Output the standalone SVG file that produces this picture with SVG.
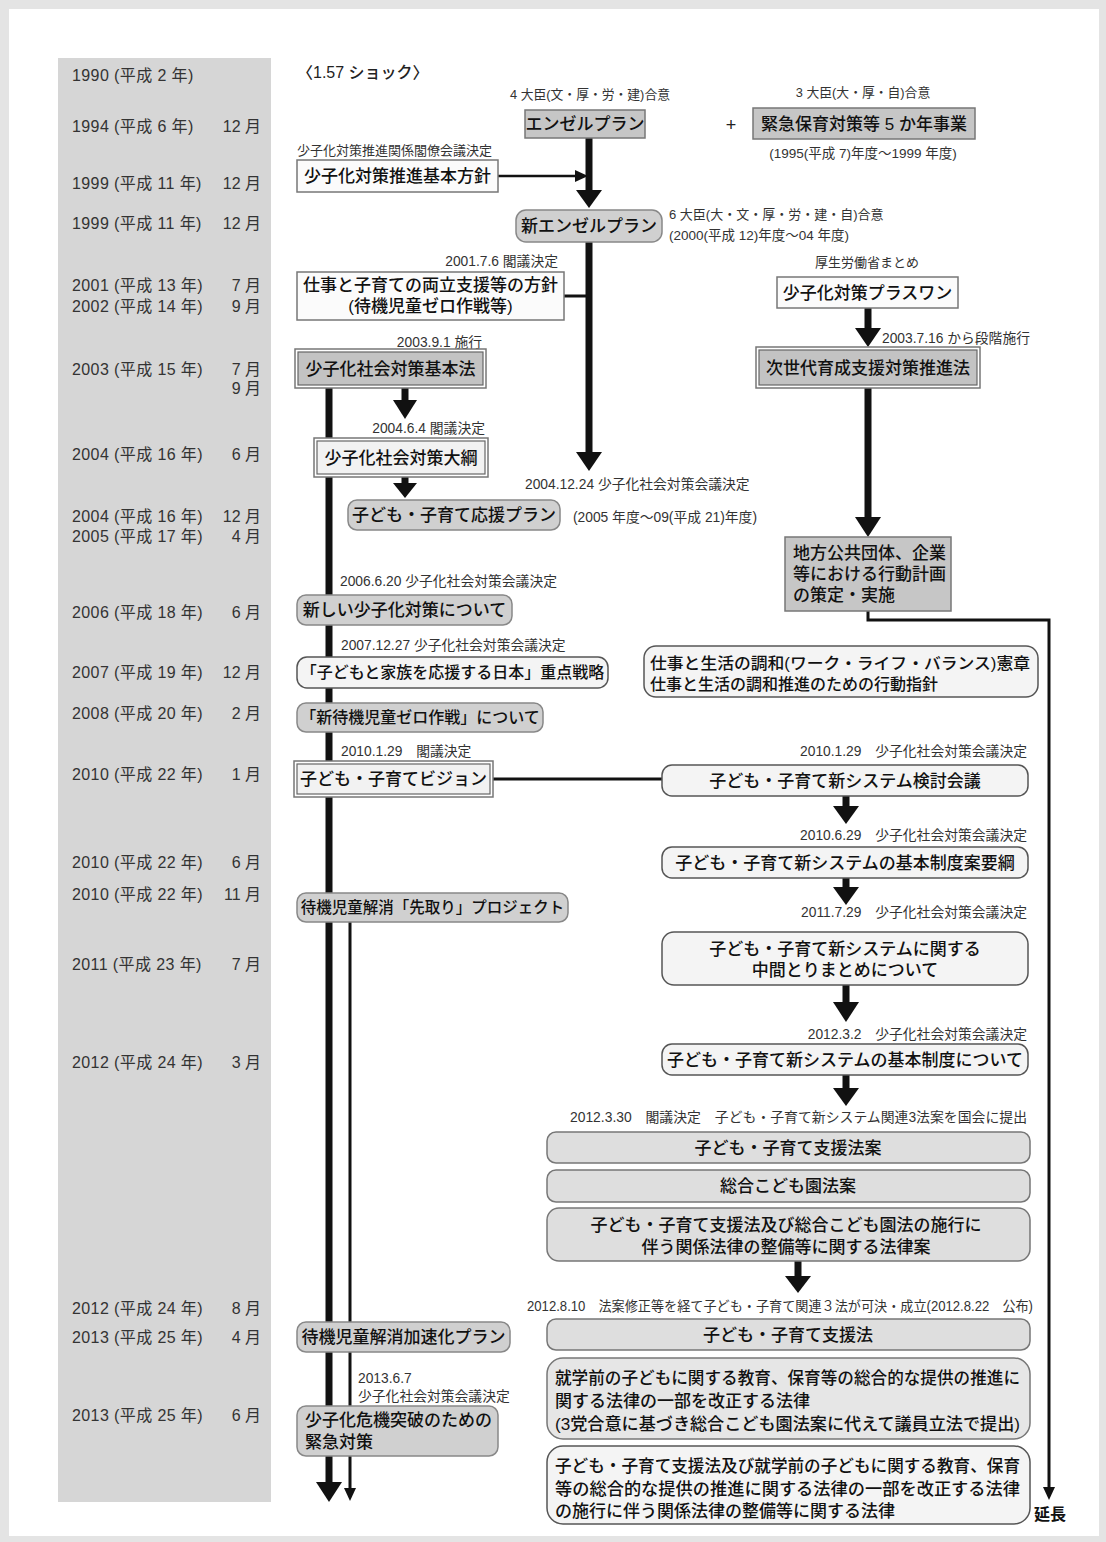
<svg xmlns="http://www.w3.org/2000/svg" width="1106" height="1542" viewBox="0 0 1106 1542">
<style>
text{font-family:"Liberation Sans","Noto Sans CJK JP",sans-serif}
.yr{font-size:16px;fill:#333;letter-spacing:0.4px}
.yrm{font-size:16px;fill:#333;text-anchor:end}
.ann{font-size:13.8px;fill:#333}
.annE{font-size:13.8px;fill:#333;text-anchor:end}
.annM{font-size:12.8px;fill:#333;text-anchor:middle}
.lbl{font-size:17px;fill:#111;text-anchor:middle;font-weight:500}
.lblL{font-size:17px;fill:#111;font-weight:500}
.gsq{fill:#c6c6c6;stroke:#777;stroke-width:1.5}
.wsq{fill:#fbfbfb;stroke:#777;stroke-width:1.5}
.grd{fill:#d0d0d0;stroke:#888;stroke-width:1.5}
.lrd{fill:#dedede;stroke:#777;stroke-width:1.5}
.wrd{fill:#f4f4f4;stroke:#555;stroke-width:1.5}
.outer{fill:#fff;stroke:#777;stroke-width:1.5}
.ginner{fill:#c3c3c3;stroke:#666;stroke-width:1.2}
.winner{fill:#f2f2f2;stroke:#666;stroke-width:1.2}
.thick{stroke:#111;stroke-width:7;fill:none}
.thin{stroke:#111;stroke-width:3;fill:none}
.head{fill:#111}
</style>
<rect x="0" y="0" width="1106" height="1542" fill="#e4e4e4"/>
<rect x="9" y="9" width="1090" height="1527" fill="#ffffff"/>
<g id="years">
<rect x="58" y="58" width="213" height="1444" fill="#d6d6d6"/>
<text class="yr" x="72" y="81">1990 (平成 2 年)</text>
<text class="yr" x="72" y="132">1994 (平成 6 年)</text><text class="yrm" x="261" y="132">12 月</text>
<text class="yr" x="72" y="189">1999 (平成 11 年)</text><text class="yrm" x="261" y="189">12 月</text>
<text class="yr" x="72" y="229">1999 (平成 11 年)</text><text class="yrm" x="261" y="229">12 月</text>
<text class="yr" x="72" y="291">2001 (平成 13 年)</text><text class="yrm" x="261" y="291">7 月</text>
<text class="yr" x="72" y="312">2002 (平成 14 年)</text><text class="yrm" x="261" y="312">9 月</text>
<text class="yr" x="72" y="375">2003 (平成 15 年)</text><text class="yrm" x="261" y="375">7 月</text>
<text class="yrm" x="261" y="394">9 月</text>
<text class="yr" x="72" y="460">2004 (平成 16 年)</text><text class="yrm" x="261" y="460">6 月</text>
<text class="yr" x="72" y="522">2004 (平成 16 年)</text><text class="yrm" x="261" y="522">12 月</text>
<text class="yr" x="72" y="542">2005 (平成 17 年)</text><text class="yrm" x="261" y="542">4 月</text>
<text class="yr" x="72" y="618">2006 (平成 18 年)</text><text class="yrm" x="261" y="618">6 月</text>
<text class="yr" x="72" y="678">2007 (平成 19 年)</text><text class="yrm" x="261" y="678">12 月</text>
<text class="yr" x="72" y="719">2008 (平成 20 年)</text><text class="yrm" x="261" y="719">2 月</text>
<text class="yr" x="72" y="780">2010 (平成 22 年)</text><text class="yrm" x="261" y="780">1 月</text>
<text class="yr" x="72" y="868">2010 (平成 22 年)</text><text class="yrm" x="261" y="868">6 月</text>
<text class="yr" x="72" y="900">2010 (平成 22 年)</text><text class="yrm" x="261" y="900">11 月</text>
<text class="yr" x="72" y="970">2011 (平成 23 年)</text><text class="yrm" x="261" y="970">7 月</text>
<text class="yr" x="72" y="1068">2012 (平成 24 年)</text><text class="yrm" x="261" y="1068">3 月</text>
<text class="yr" x="72" y="1314">2012 (平成 24 年)</text><text class="yrm" x="261" y="1314">8 月</text>
<text class="yr" x="72" y="1343">2013 (平成 25 年)</text><text class="yrm" x="261" y="1343">4 月</text>
<text class="yr" x="72" y="1421">2013 (平成 25 年)</text><text class="yrm" x="261" y="1421">6 月</text>
</g>
<g id="annotations">
<text x="297" y="78" style="font-size:16px;fill:#222;font-weight:500">〈1.57 ショック〉</text>
<text class="annM" x="590" y="99">4 大臣(文・厚・労・建)合意</text>
<text x="731" y="131" style="font-size:18px;fill:#222;text-anchor:middle">+</text>
<text class="annM" x="863" y="97">3 大臣(大・厚・自)合意</text>
<text class="annM" x="863" y="158" style="font-size:13.5px">(1995(平成 7)年度～1999 年度)</text>
<text class="ann" x="297" y="155" style="font-size:13px">少子化対策推進関係閣僚会議決定</text>
<text class="ann" x="669" y="219" style="font-size:13px">6 大臣(大・文・厚・労・建・自)合意</text>
<text class="ann" x="669" y="240" style="font-size:13.5px">(2000(平成 12)年度～04 年度)</text>
<text class="annE" x="558" y="266">2001.7.6 閣議決定</text>
<text class="annM" x="867" y="267" style="font-size:13px">厚生労働省まとめ</text>
<text class="ann" x="882" y="343">2003.7.16 から段階施行</text>
<text class="annE" x="482" y="347">2003.9.1 施行</text>
<text class="annE" x="485" y="433">2004.6.4 閣議決定</text>
<text class="ann" x="525" y="489">2004.12.24 少子化社会対策会議決定</text>
<text class="ann" x="573" y="522">(2005 年度～09(平成 21)年度)</text>
<text class="ann" x="340" y="586">2006.6.20 少子化社会対策会議決定</text>
<text class="ann" x="341" y="650">2007.12.27 少子化社会対策会議決定</text>
<text class="ann" x="341" y="756">2010.1.29　閣議決定</text>
<text class="annE" x="1027" y="756">2010.1.29　少子化社会対策会議決定</text>
<text class="annE" x="1027" y="840">2010.6.29　少子化社会対策会議決定</text>
<text class="annE" x="1027" y="917">2011.7.29　少子化社会対策会議決定</text>
<text class="annE" x="1027" y="1039">2012.3.2　少子化社会対策会議決定</text>
<text class="ann" x="570" y="1122" textLength="457" lengthAdjust="spacingAndGlyphs">2012.3.30　閣議決定　子ども・子育て新システム関連3法案を国会に提出</text>
<text class="ann" x="527" y="1311" textLength="506" lengthAdjust="spacingAndGlyphs">2012.8.10　法案修正等を経て子ども・子育て関連３法が可決・成立(2012.8.22　公布)</text>
<text class="ann" x="358" y="1383">2013.6.7</text>
<text class="ann" x="358" y="1401">少子化社会対策会議決定</text>
<text x="1034" y="1520" style="font-size:16px;fill:#111;font-weight:bold">延長</text>
</g>
<g id="connectors">
<line class="thick" x1="589" y1="137" x2="589" y2="191"/>
<polygon class="head" points="576,190 602,190 589,208"/>
<line x1="498" y1="176" x2="578" y2="176" stroke="#111" stroke-width="2.5"/>
<polygon class="head" points="575,170 588,176 575,182"/>
<line class="thick" x1="589" y1="242" x2="589" y2="453"/>
<polygon class="head" points="576,452 602,452 589,471"/>
<line class="thin" x1="564" y1="296" x2="589" y2="296"/>
<line class="thick" x1="868" y1="308" x2="868" y2="329"/>
<polygon class="head" points="855,328 881,328 868,347"/>
<line class="thick" x1="868" y1="388" x2="868" y2="518"/>
<polygon class="head" points="855,517 881,517 868,537"/>
<polyline class="thin" points="868,611 868,620 1049,620 1049,1490"/>
<polygon class="head" points="1043,1487 1055,1487 1049,1500"/>
<line class="thick" x1="405" y1="388" x2="405" y2="402"/>
<polygon class="head" points="393,400 417,400 405,419"/>
<line class="thick" x1="405" y1="477" x2="405" y2="485"/>
<polygon class="head" points="393,483 417,483 405,498"/>
<line class="thick" x1="329" y1="388" x2="329" y2="1484"/>
<polygon class="head" points="316,1482 342,1482 329,1502"/>
<line class="thin" x1="350" y1="922" x2="350" y2="1490"/>
<polygon class="head" points="344,1488 356,1488 350,1501"/>
<line class="thin" x1="493" y1="779" x2="662" y2="779"/>
<line class="thick" x1="846" y1="796" x2="846" y2="808"/>
<polygon class="head" points="833,806 859,806 846,824"/>
<line class="thick" x1="846" y1="878" x2="846" y2="889"/>
<polygon class="head" points="833,887 859,887 846,905"/>
<line class="thick" x1="846" y1="985" x2="846" y2="1004"/>
<polygon class="head" points="833,1002 859,1002 846,1022"/>
<line class="thick" x1="846" y1="1075" x2="846" y2="1090"/>
<polygon class="head" points="833,1088 859,1088 846,1106"/>
<line class="thick" x1="798" y1="1261" x2="798" y2="1278"/>
<polygon class="head" points="785,1276 811,1276 798,1293"/>
</g>
<g id="n-angel"><rect class="gsq" x="525" y="110" width="120" height="28"/><text class="lbl" x="585" y="130">エンゼルプラン</text></g>
<g id="n-kinkyuhoiku"><rect class="gsq" x="753" y="108" width="222" height="31"/><text class="lbl" x="864" y="130">緊急保育対策等 5 か年事業</text></g>
<g id="n-kihonhoshin"><rect class="wsq" x="297" y="160" width="201" height="32"/><text class="lbl" x="397.5" y="182">少子化対策推進基本方針</text></g>
<g id="n-shinangel"><rect class="grd" x="516" y="210" width="146" height="32" rx="10"/><text class="lbl" x="589" y="232">新エンゼルプラン</text></g>
<g id="n-ryoritsu"><rect class="wsq" x="297" y="272" width="267" height="48"/><text class="lbl" x="430.5" y="291">仕事と子育ての両立支援等の方針</text><text class="lbl" x="430.5" y="312">(待機児童ゼロ作戦等)</text></g>
<g id="n-plusone"><rect class="wsq" x="777" y="277" width="181" height="31"/><text class="lbl" x="867.5" y="299">少子化対策プラスワン</text></g>
<g id="n-jisedai"><rect class="outer" x="756" y="347" width="224" height="41"/><rect class="ginner" x="759" y="350" width="218" height="35"/><text class="lbl" x="868" y="374">次世代育成支援対策推進法</text></g>
<g id="n-kihonho"><rect class="outer" x="295" y="349" width="191" height="39"/><rect class="ginner" x="298" y="352" width="185" height="33"/><text class="lbl" x="390.5" y="375">少子化社会対策基本法</text></g>
<g id="n-taiko"><rect class="outer" x="314" y="438" width="174" height="39"/><rect class="winner" x="317" y="441" width="168" height="33"/><text class="lbl" x="401" y="464">少子化社会対策大綱</text></g>
<g id="n-oen"><rect class="grd" x="348" y="500" width="212" height="30" rx="9"/><text class="lbl" x="454" y="521">子ども・子育て応援プラン</text></g>
<g id="n-chiho"><rect class="gsq" x="785" y="537" width="166" height="74"/><text class="lblL" x="793" y="559">地方公共団体、企業</text><text class="lblL" x="793" y="580">等における行動計画</text><text class="lblL" x="793" y="601">の策定・実施</text></g>
<g id="n-atarashii"><rect class="grd" x="297" y="595" width="215" height="30" rx="9"/><text class="lbl" x="404.5" y="616">新しい少子化対策について</text></g>
<g id="n-wlb"><rect class="wrd" x="644" y="646" width="394" height="51" rx="12"/><text class="lblL" x="650" y="669" style="font-size:16px" textLength="380" lengthAdjust="spacingAndGlyphs">仕事と生活の調和(ワーク・ライフ・バランス)憲章</text><text class="lblL" x="650" y="690" style="font-size:16px">仕事と生活の調和推進のための行動指針</text></g>
<g id="n-juten"><rect class="wrd" x="297" y="657" width="311" height="31" rx="10"/><text class="lbl" x="452.5" y="678" style="font-size:16px">「子どもと家族を応援する日本」重点戦略</text></g>
<g id="n-shintaiki"><rect class="grd" x="297" y="703" width="246" height="29" rx="9"/><text class="lbl" x="420" y="723" style="font-size:16px">「新待機児童ゼロ作戦」について</text></g>
<g id="n-vision"><rect class="outer" x="294" y="761" width="199" height="36"/><rect class="winner" x="297" y="764" width="193" height="30"/><text class="lbl" x="393.5" y="785">子ども・子育てビジョン</text></g>
<g id="n-kento"><rect class="wrd" x="662" y="765" width="366" height="31" rx="10"/><text class="lbl" x="845" y="787">子ども・子育て新システム検討会議</text></g>
<g id="n-yoko"><rect class="wrd" x="662" y="847" width="366" height="31" rx="10"/><text class="lbl" x="845" y="869">子ども・子育て新システムの基本制度案要綱</text></g>
<g id="n-sakidori"><rect class="grd" x="297" y="893" width="271" height="29" rx="9"/><text class="lbl" x="432.5" y="913" style="font-size:15.5px">待機児童解消「先取り」プロジェクト</text></g>
<g id="n-chukan"><rect class="wrd" x="662" y="932" width="366" height="53" rx="12"/><text class="lbl" x="845" y="955">子ども・子育て新システムに関する</text><text class="lbl" x="845" y="976">中間とりまとめについて</text></g>
<g id="n-kihonseido"><rect class="wrd" x="662" y="1044" width="366" height="31" rx="10"/><text class="lbl" x="845" y="1066">子ども・子育て新システムの基本制度について</text></g>
<g id="n-hoan1"><rect class="lrd" x="547" y="1132" width="483" height="31" rx="9"/><text class="lbl" x="788" y="1154">子ども・子育て支援法案</text></g>
<g id="n-hoan2"><rect class="lrd" x="547" y="1170" width="483" height="32" rx="9"/><text class="lbl" x="788" y="1192">総合こども園法案</text></g>
<g id="n-hoan3"><rect class="lrd" x="547" y="1208" width="483" height="53" rx="12"/><text class="lbl" x="786" y="1231">子ども・子育て支援法及び総合こども園法の施行に</text><text class="lbl" x="786" y="1253">伴う関係法律の整備等に関する法律案</text></g>
<g id="n-shienho"><rect class="lrd" x="547" y="1319" width="483" height="31" rx="9"/><text class="lbl" x="788" y="1341">子ども・子育て支援法</text></g>
<g id="n-kasokuka"><rect class="grd" x="297" y="1322" width="213" height="30" rx="9"/><text class="lbl" x="403.5" y="1343">待機児童解消加速化プラン</text></g>
<g id="n-shugakumae"><rect class="lrd" x="547" y="1358" width="483" height="81" rx="16" style="fill:#e6e6e6"/><text class="lblL" x="555" y="1384" textLength="465" lengthAdjust="spacingAndGlyphs">就学前の子どもに関する教育、保育等の総合的な提供の推進に</text><text class="lblL" x="555" y="1407">関する法律の一部を改正する法律</text><text class="lblL" x="555" y="1430" textLength="465" lengthAdjust="spacingAndGlyphs">(3党合意に基づき総合こども園法案に代えて議員立法で提出)</text></g>
<g id="n-kinkyu"><rect class="grd" x="297" y="1406" width="201" height="50" rx="9"/><text class="lblL" x="305" y="1426">少子化危機突破のための</text><text class="lblL" x="305" y="1448">緊急対策</text></g>
<g id="n-seibi"><rect class="wrd" x="547" y="1446" width="483" height="78" rx="16"/><text class="lblL" x="555" y="1472" textLength="465" lengthAdjust="spacingAndGlyphs">子ども・子育て支援法及び就学前の子どもに関する教育、保育</text><text class="lblL" x="555" y="1495" textLength="465" lengthAdjust="spacingAndGlyphs">等の総合的な提供の推進に関する法律の一部を改正する法律</text><text class="lblL" x="555" y="1517">の施行に伴う関係法律の整備等に関する法律</text></g>
</svg>
